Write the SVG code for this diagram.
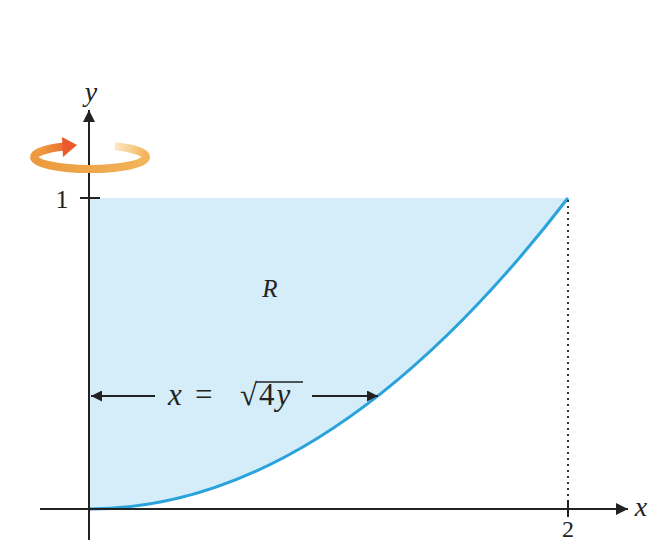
<svg xmlns="http://www.w3.org/2000/svg" width="661" height="541" viewBox="0 0 661 541">
<defs>
<style>
.ax{stroke:#222;stroke-width:2;fill:none}
text{fill:#222}
.it{font-style:italic}
</style>
<marker id="ahBig" viewBox="0 0 10 10" refX="10" refY="5" markerWidth="14" markerHeight="12" orient="auto" markerUnits="userSpaceOnUse">
<path d="M0,0 L10,5 L0,10 Z" fill="#222"/>
</marker>
<marker id="ahS" viewBox="0 0 10 10" refX="10" refY="5" markerWidth="15" markerHeight="11" orient="auto" markerUnits="userSpaceOnUse">
<path d="M0,0 L10,5 L0,10 Z" fill="#222"/>
</marker>
<linearGradient id="ringFront" gradientUnits="userSpaceOnUse" x1="34" y1="0" x2="146" y2="0">
<stop offset="0" stop-color="#eb9a3c"/>
<stop offset="1" stop-color="#f3b45a"/>
</linearGradient>
<linearGradient id="ringBack" gradientUnits="userSpaceOnUse" x1="114" y1="0" x2="146" y2="0">
<stop offset="0" stop-color="#fdebc8"/>
<stop offset="1" stop-color="#f3b45a"/>
</linearGradient>
<linearGradient id="ringArrow" gradientUnits="userSpaceOnUse" x1="40" y1="0" x2="76" y2="0">
<stop offset="0" stop-color="#ef9a40"/>
<stop offset="1" stop-color="#ec5a2c"/>
</linearGradient>
</defs>
<rect width="661" height="541" fill="#ffffff"/>
<g id="region">
<path d="M89,198 L568,198 Q328.5,509 89,509 Z" fill="#d4edf9"/>
</g>
<g id="curve">
<path d="M89,509 Q328.5,509 568,198" fill="none" stroke="#2aa3dc" stroke-width="3"/>
<line x1="568" y1="200" x2="568" y2="500" stroke="#333" stroke-width="2" stroke-dasharray="2,4"/>
</g>
<g id="axes">
<line class="ax" x1="40" y1="509" x2="628" y2="509" marker-end="url(#ahBig)"/>
<line class="ax" x1="89" y1="540" x2="89" y2="110" marker-end="url(#ahBig)"/>
<line class="ax" x1="80" y1="198" x2="100" y2="198"/>
<line class="ax" x1="568" y1="500" x2="568" y2="517"/>
</g>
<g id="ring-arrow" fill="none" stroke-width="8">
<path d="M115,146.3 A56,12 0 0 1 146,157" stroke="url(#ringBack)"/>
<path d="M146,157 A56,12 0 0 1 34,157" stroke="url(#ringFront)"/>
<path d="M34,157 A56,12 0 0 1 64,146.5" stroke="url(#ringArrow)"/>
<path d="M62,137 L77,145 L63,157 Z" fill="#ec5a2c" stroke="none"/>
</g>
<g id="labels" font-family="'Liberation Serif','DejaVu Serif',serif">
<text class="it" x="91" y="101" font-size="28" text-anchor="middle">y</text>
<text class="it" x="641" y="516" font-size="28" text-anchor="middle">x</text>
<text x="62" y="208" font-size="26" text-anchor="middle">1</text>
<text x="568" y="537" font-size="24" text-anchor="middle">2</text>
<text class="it" x="270" y="297" font-size="25" text-anchor="middle">R</text>
</g>
<g id="formula" font-family="'Liberation Serif','DejaVu Serif','Times New Roman',serif">
<line class="ax" x1="155" y1="396" x2="91" y2="396" stroke-width="1.5" marker-end="url(#ahS)"/>
<line class="ax" x1="312" y1="396" x2="378" y2="396" stroke-width="1.5" marker-end="url(#ahS)"/>
<text class="it" x="168" y="405" font-size="31">x</text>
<text x="195" y="405" font-size="31">=</text>
<text x="240" y="405" font-size="31" letter-spacing="2">√4<tspan class="it">y</tspan></text>
<line x1="256" y1="382" x2="303" y2="382" stroke="#222" stroke-width="1.3"/>
</g>
</svg>
